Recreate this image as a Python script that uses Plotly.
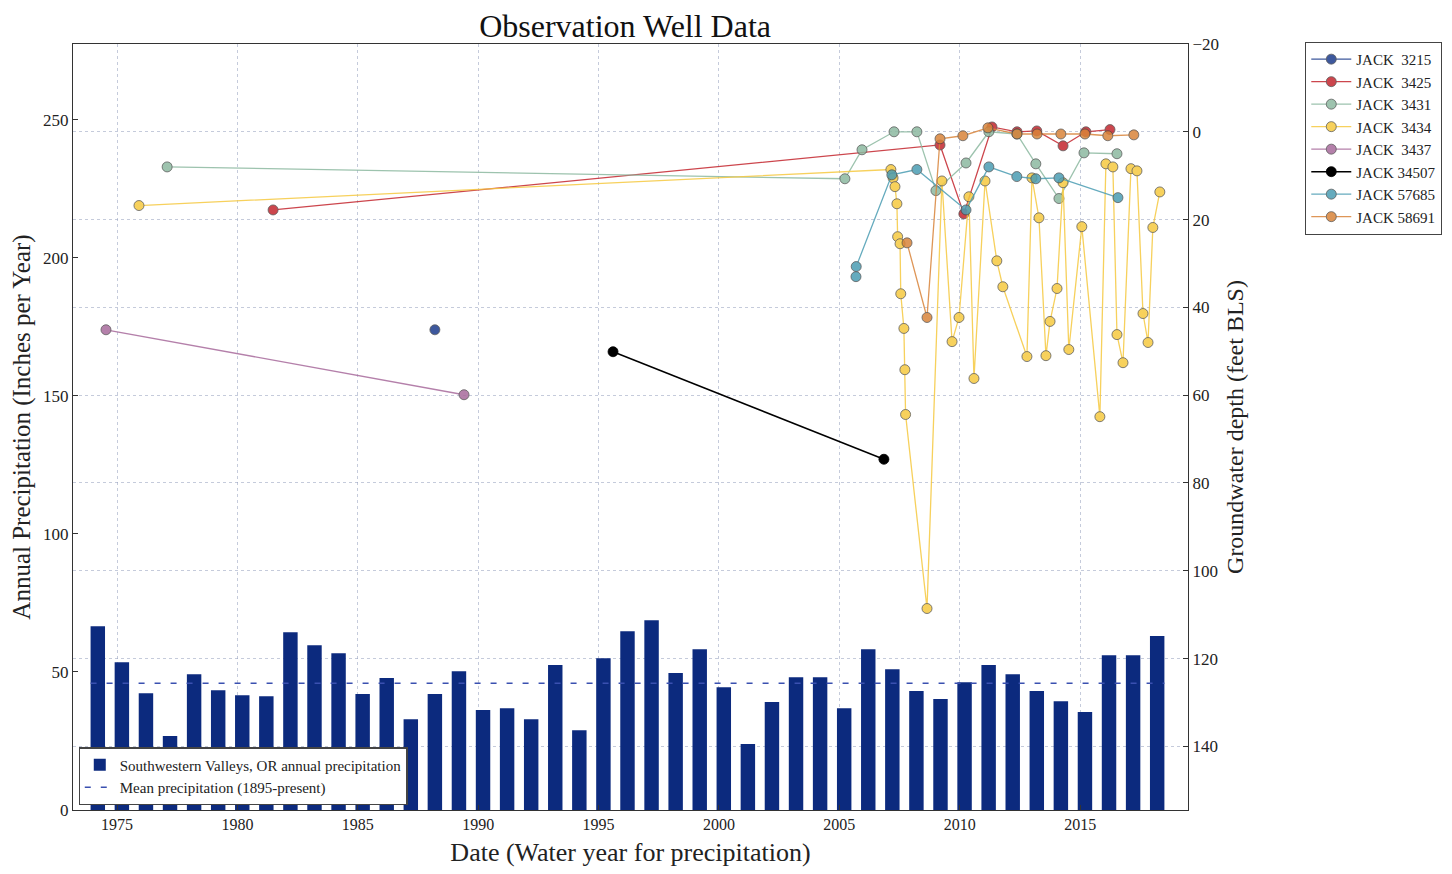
import plotly.graph_objects as go

# ---- Precipitation (bars) ----
precip_years = list(range(1974, 2019))
precip_values = [66.6, 53.5, 42.3, 26.8, 49.2, 43.4, 41.6, 41.2, 64.4, 59.7,
                 56.8, 42.0, 47.8, 32.9, 42.0, 50.3, 36.2, 36.9, 32.9, 52.5,
                 28.9, 55.0, 64.8, 68.7, 49.6, 58.2, 44.5, 23.9, 39.1, 48.1,
                 48.1, 36.9, 58.2, 51.0, 43.1, 40.2, 46.3, 52.5, 49.2, 43.1,
                 39.4, 35.5, 56.1, 56.1, 63.0]
bar_offset = 0.2
mean_precip = 45.9
mean_x = [1973.9, 2018.5]

# ---- Wells: (decimal year, depth ft BLS) ----
jack_3215_x = [1988.2]
jack_3215_y = [45.1]

jack_3425_x = [1981.48, 2009.18, 2010.17, 2011.34, 2012.38, 2013.2, 2014.29, 2015.24, 2016.24]
jack_3425_y = [17.8, 3.0, 18.7, -1.1, 0.0, -0.2, 3.2, 0.0, -0.5]

jack_3431_x = [1977.08, 2005.23, 2005.94, 2007.27, 2008.22, 2009.01, 2010.26, 2011.21,
               2012.37, 2013.16, 2014.12, 2015.16, 2016.53]
jack_3431_y = [8.0, 10.7, 4.1, 0.0, 0.0, 13.4, 7.1, 0.0, 0.5, 7.3, 15.2, 4.8, 5.0]

jack_3434_x = [1975.91, 2007.14, 2007.23, 2007.31, 2007.39, 2007.42, 2007.52, 2007.55,
               2007.68, 2007.72, 2007.75, 2008.64, 2009.26, 2009.68, 2009.97, 2010.38,
               2010.59, 2011.05, 2011.54, 2011.79, 2012.79, 2013.0, 2013.29, 2013.58,
               2013.75, 2014.04, 2014.29, 2014.53, 2015.07, 2015.82, 2016.07, 2016.36,
               2016.53, 2016.78, 2017.11, 2017.36, 2017.61, 2017.82, 2018.02, 2018.31]
jack_3434_y = [16.8, 8.6, 10.5, 12.5, 16.4, 23.9, 25.5, 36.9, 44.8, 54.2, 64.4, 108.6,
               11.2, 47.8, 42.3, 14.8, 56.2, 11.2, 29.4, 35.3, 51.2, 10.5, 19.6, 51.0,
               43.2, 35.7, 11.6, 49.6, 21.6, 64.9, 7.3, 8.0, 46.2, 52.6, 8.4, 8.9,
               41.4, 48.0, 21.8, 13.7]

jack_3437_x = [1974.54, 1989.41]
jack_3437_y = [45.1, 59.9]

jack_34507_x = [1995.6, 2006.85]
jack_34507_y = [50.1, 74.6]

jack_57685_x = [2005.69, 2005.70, 2007.18, 2008.22, 2010.26, 2011.21, 2012.37, 2013.16,
                2014.12, 2016.57]
jack_57685_y = [33.0, 30.7, 9.8, 8.6, 17.8, 8.0, 10.2, 10.7, 10.5, 15.0]

jack_58691_x = [2007.81, 2008.64, 2009.18, 2010.13, 2011.17, 2012.38, 2013.21, 2014.2,
                2015.2, 2016.15, 2017.23]
jack_58691_y = [25.3, 42.3, 1.6, 0.9, -0.9, 0.5, 0.5, 0.5, 0.5, 0.9, 0.7]

wells = [
    ("JACK  3215", jack_3215_x, jack_3215_y, "#1c3c8c"),
    ("JACK  3425", jack_3425_x, jack_3425_y, "#c4262e"),
    ("JACK  3431", jack_3431_x, jack_3431_y, "#8cb9a0"),
    ("JACK  3434", jack_3434_x, jack_3434_y, "#f6c940"),
    ("JACK  3437", jack_3437_x, jack_3437_y, "#a86a9c"),
    ("JACK 34507", jack_34507_x, jack_34507_y, "#000000"),
    ("JACK 57685", jack_57685_x, jack_57685_y, "#4b9db3"),
    ("JACK 58691", jack_58691_x, jack_58691_y, "#d9843a"),
]

FONT = "Liberation Serif"
fig = go.Figure()

fig.add_trace(go.Bar(
    x=[y + bar_offset for y in precip_years], y=precip_values, width=0.6,
    marker=dict(color="#0c2a7e", line=dict(width=0)),
    name="Southwestern Valleys, OR annual precipitation",
    legend="legend2", yaxis="y"))
fig.add_trace(go.Scatter(
    x=mean_x, y=[mean_precip, mean_precip], mode="lines",
    line=dict(color="#3a50b0", width=1.5, dash="6px,10px"),
    name="Mean precipitation (1895-present)", legend="legend2", yaxis="y"))

for name, xs, ys, col in wells:
    edge = "#444444" if col != "#000000" else "#000000"
    fig.add_trace(go.Scatter(
        x=xs, y=ys, mode="lines+markers", name=name, yaxis="y2",
        line=dict(color=col, width=1.5 if col == "#000000" else 1.3),
        marker=dict(color=col, size=10, line=dict(color=edge, width=0.8)),
        opacity=1.0 if col == "#000000" else 0.85,
        legend="legend"))

grid_col = "rgba(150,160,190,0.55)"
# the page body has an 8px default margin, compensate in the plot margins
fig.update_layout(
    width=1452, height=874,
    paper_bgcolor="white", plot_bgcolor="white",
    margin=dict(l=65, r=272, t=36, b=72, autoexpand=False),
    font=dict(family=FONT, size=16, color="#222"),
    title=dict(text="Observation Well Data", x=0.425, xanchor="center",
               y=0.9794, yanchor="middle", yref="container",
               font=dict(family=FONT, size=32, color="#111")),
    barmode="overlay",
    xaxis=dict(range=[1973.17, 2019.48], tickvals=[1975, 1980, 1985, 1990, 1995, 2000, 2005, 2010, 2015],
               ticks="inside", ticklen=5, tickcolor="#333", showline=True, linecolor="#333",
               linewidth=1.2, mirror=True, showgrid=True, gridcolor=grid_col, griddash="dot",
               gridwidth=1, zeroline=False,
               title=dict(text="Date (Water year for precipitation)", font=dict(family=FONT, size=26), standoff=10),
               tickfont=dict(family=FONT, size=16)),
    yaxis=dict(range=[0, 277.5], tickvals=[0, 50, 100, 150, 200, 250], ticks="inside", ticklen=5,
               tickcolor="#333", showline=True, linecolor="#333", linewidth=1.2, mirror=True,
               showgrid=False, zeroline=False,
               title=dict(text="Annual Precipitation (Inches per Year)", font=dict(family=FONT, size=25), standoff=12),
               tickfont=dict(family=FONT, size=17)),
    yaxis2=dict(overlaying="y", side="right", range=[154.5, -20],
                tickvals=[-20, 0, 20, 40, 60, 80, 100, 120, 140], ticks="inside", ticklen=5,
                tickcolor="#333", showline=True, linecolor="#333", linewidth=1.2,
                showgrid=True, gridcolor=grid_col, griddash="dot", gridwidth=1, zeroline=False,
                title=dict(text="Groundwater depth (feet BLS)", font=dict(family=FONT, size=24), standoff=8),
                tickfont=dict(family=FONT, size=17)),
    legend=dict(x=1.105, y=1.003, xanchor="left", yanchor="top",
                bgcolor="white", bordercolor="#444", borderwidth=1.2,
                font=dict(family=FONT, size=15), tracegroupgap=0, itemwidth=40),
    legend2=dict(x=0.005, y=0.006, xanchor="left", yanchor="bottom",
                 bgcolor="white", bordercolor="#444", borderwidth=1.2,
                 font=dict(family=FONT, size=15), tracegroupgap=0, itemwidth=30),
)

fig.write_html("out.html")
